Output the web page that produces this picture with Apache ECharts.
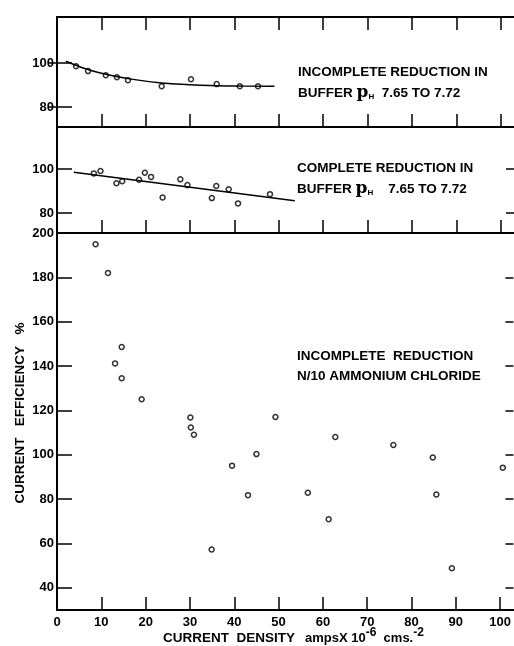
<!DOCTYPE html>
<html>
<head>
<meta charset="utf-8">
<script src="https://cdn.jsdelivr.net/npm/echarts@6/dist/echarts.min.js"></script>
<style>
  html, body { margin: 0; padding: 0; background: #fff; }
  #main { width: 514px; height: 646px; }
</style>
</head>
<body>
<div id="main"></div>
<script>
// x axis (current density) tick values
var xTicks = [0, 10, 20, 30, 40, 50, 60, 70, 80, 90, 100]
var xTickMarks = [10, 20, 30, 40, 50, 60, 70, 80, 90, 100]

// panel 1: incomplete reduction in buffer
var topX = [4.3, 7.0, 11.0, 13.5, 16.0, 23.6, 30.2, 36.0, 41.2, 45.3]
var topY = [98.6, 96.4, 94.5, 93.6, 92.3, 89.5, 92.7, 90.5, 89.5, 89.5]
var topCurveX = [2, 5, 7, 11, 16, 23.6, 30, 36, 42, 49]
var topCurveY = [100.9, 98.5, 97.1, 95.0, 93.0, 91.0, 90.2, 89.8, 89.6, 89.5]

// panel 2: complete reduction in buffer
var midX = [8.3, 9.8, 13.4, 14.7, 18.5, 19.8, 21.2, 23.8, 27.8, 29.4, 34.9, 35.9, 38.7, 40.8, 48.0]
var midY = [98.0, 99.1, 93.5, 94.4, 95.1, 98.3, 96.4, 87.1, 95.3, 92.7, 86.8, 92.3, 90.8, 84.4, 88.6]
var midLineX = [3.8, 53.6]
var midLineY = [98.5, 85.6]

// panel 3: incomplete reduction, N/10 ammonium chloride
var botX = [8.7, 11.5, 14.6, 13.1, 14.6, 19.1, 30.1, 30.2, 30.9, 34.9, 39.5, 43.1, 45.0, 49.3,
  56.6, 61.3, 62.8, 75.9, 84.8, 85.6, 89.1, 100.6]
var botY = [194.9, 182, 148.6, 141.2, 134.5, 125, 116.8, 112.3, 109, 57.3, 95.1, 81.8, 100.3, 117,
  82.9, 70.9, 108, 104.4, 98.8, 82.1, 48.8, 94.2]

var smallTicks = [80, 100]
var bigTicks = [40, 60, 80, 100, 120, 140, 160, 180]
var bigLabels = [40, 60, 80, 100, 120, 140, 160, 180, 200]

function zip(xs, ys) {
  return xs.map(function (x, i) { return [x, ys[i]] })
}

var FONT = 'Liberation Sans'
var lineStyle = { color: '#000', width: 2 }

function xAxis(grid, position, labels) {
  return {
    type: 'value',
    gridIndex: grid,
    position: position,
    min: 0,
    max: 103,
    axisLine: { show: true, lineStyle: lineStyle },
    axisTick: { show: true, inside: true, length: 13, customValues: xTickMarks, lineStyle: { color: '#000', width: 1.5 } },
    axisLabel: {
      show: labels,
      customValues: xTicks,
      color: '#000',
      fontFamily: FONT,
      fontWeight: 'bold',
      fontSize: 13,
      margin: 6
    },
    splitLine: { show: false }
  }
}

function yAxisLeft(grid, min, max, ticks, labels) {
  return {
    type: 'value',
    gridIndex: grid,
    position: 'left',
    min: min,
    max: max,
    axisLine: { show: true, lineStyle: lineStyle },
    axisTick: { show: true, inside: true, length: 15, customValues: ticks, lineStyle: { color: '#000', width: 1.5 } },
    axisLabel: {
      customValues: labels,
      color: '#000',
      fontFamily: FONT,
      fontWeight: 'bold',
      fontSize: 13,
      margin: 3
    },
    splitLine: { show: false }
  }
}

function yAxisRight(grid, min, max, ticks) {
  return {
    type: 'value',
    gridIndex: grid,
    position: 'right',
    min: min,
    max: max,
    axisLine: { show: false },
    axisTick: { show: true, inside: true, length: 8, customValues: ticks, lineStyle: { color: '#000', width: 1.5 } },
    axisLabel: { show: false },
    splitLine: { show: false }
  }
}

var dot = {
  symbol: 'circle',
  symbolSize: 5,
  itemStyle: { color: '#fff', borderColor: '#000', borderWidth: 1.5 }
}

function scatter(xi, yi, data) {
  return Object.assign({ type: 'scatter', xAxisIndex: xi, yAxisIndex: yi, data: data, silent: true }, dot)
}

function textStyle(size) {
  return { fill: '#000', font: 'bold ' + size + 'px "' + FONT + '"' }
}

var phRich = {
  a: textStyle(13.5),
  p: { fill: '#000', font: 'bold 17px "DejaVu Serif"' },
  s: { fill: '#000', font: 'bold 8px "' + FONT + '"', padding: [8, 0, 0, 0] }
}

var chart = echarts.init(document.getElementById('main'))
chart.setOption({
  backgroundColor: '#fff',
  animation: false,
  grid: [
    { left: 57, right: 0, top: 17, height: 110 },
    { left: 57, right: 0, top: 127, height: 106 },
    { left: 57, right: 0, top: 233, height: 377 }
  ],
  xAxis: [
    xAxis(0, 'bottom', false),
    xAxis(0, 'top', false),
    xAxis(1, 'bottom', false),
    xAxis(2, 'bottom', true)
  ],
  yAxis: [
    yAxisLeft(0, 71, 121, smallTicks, smallTicks),
    yAxisRight(0, 71, 121, smallTicks),
    yAxisLeft(1, 71, 119, smallTicks, smallTicks),
    yAxisRight(1, 71, 119, smallTicks),
    yAxisLeft(2, 30, 200, bigTicks, bigLabels),
    yAxisRight(2, 30, 200, bigTicks)
  ],
  series: [
    {
      type: 'line', xAxisIndex: 0, yAxisIndex: 0, smooth: true, showSymbol: false, silent: true,
      lineStyle: { color: '#000', width: 1.5 },
      data: zip(topCurveX, topCurveY)
    },
    scatter(0, 0, zip(topX, topY)),
    {
      type: 'line', xAxisIndex: 2, yAxisIndex: 2, showSymbol: false, silent: true,
      lineStyle: { color: '#000', width: 1.5 },
      data: zip(midLineX, midLineY)
    },
    scatter(2, 2, zip(midX, midY)),
    scatter(3, 4, zip(botX, botY))
  ],
  graphic: [
    { type: 'text', x: 298, y: 72, style: Object.assign({ text: 'INCOMPLETE REDUCTION IN', verticalAlign: 'middle' }, textStyle(13.5)) },
    {
      type: 'text', x: 298, y: 93,
      style: { text: '{a|BUFFER }{p|p}{s|H}{a|  7.65 TO 7.72}', verticalAlign: 'middle', rich: phRich }
    },
    { type: 'text', x: 297, y: 168, style: Object.assign({ text: 'COMPLETE REDUCTION IN', verticalAlign: 'middle' }, textStyle(13.5)) },
    {
      type: 'text', x: 297, y: 189,
      style: { text: '{a|BUFFER }{p|p}{s|H}{a|    7.65 TO 7.72}', verticalAlign: 'middle', rich: phRich }
    },
    { type: 'text', x: 297, y: 356, style: Object.assign({ text: 'INCOMPLETE  REDUCTION', verticalAlign: 'middle' }, textStyle(13.5)) },
    { type: 'text', x: 297, y: 376, style: Object.assign({ text: 'N/10 AMMONIUM CHLORIDE', verticalAlign: 'middle' }, textStyle(13.5)) },
    {
      type: 'text', x: 20, y: 413, rotation: Math.PI / 2,
      style: Object.assign({ text: 'CURRENT   EFFICIENCY   %', align: 'center', verticalAlign: 'middle' }, textStyle(13.5))
    },
    {
      type: 'text', x: 163, y: 638,
      style: {
        text: '{a|CURRENT  DENSITY}   {b|ampsX 10}{u|-6}{b|  cms.}{u|-2}',
        verticalAlign: 'middle',
        rich: {
          a: textStyle(13.5),
          b: textStyle(13),
          u: { fill: '#000', font: 'bold 12px "' + FONT + '"', padding: [0, 0, 10, 0] }
        }
      }
    }
  ]
})
</script>
</body>
</html>
